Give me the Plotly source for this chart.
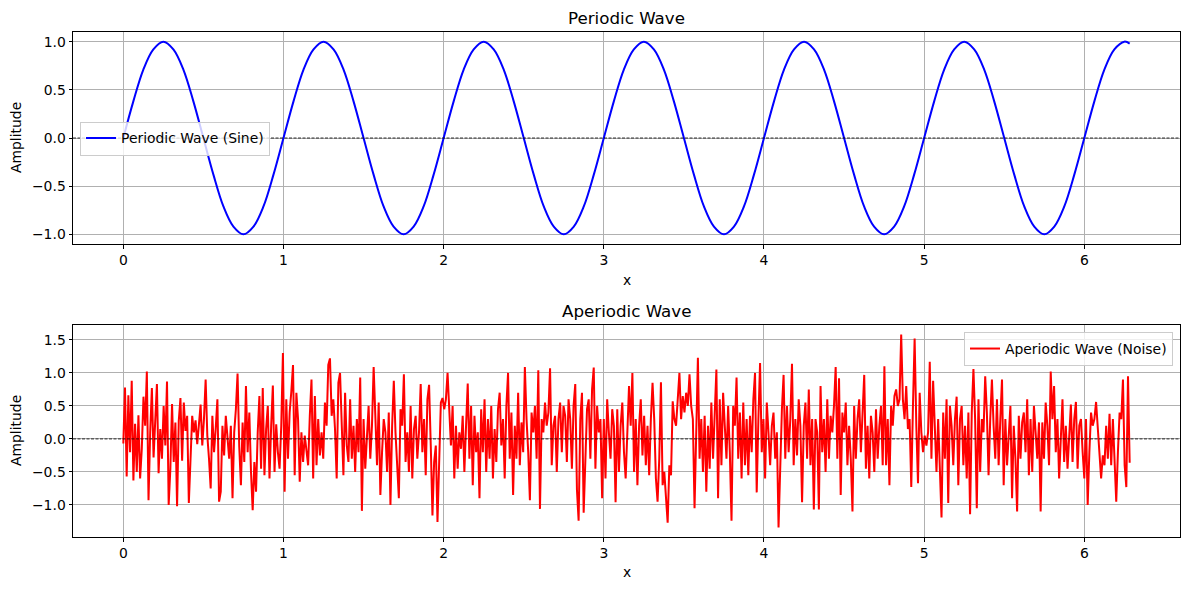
import plotly.graph_objects as go

# ---------------- data ----------------
sine_x = [
    0.0, 0.0625, 0.125, 0.1875, 0.25, 0.3125, 0.375, 0.4375, 0.5, 0.5625, 0.625, 0.6875, 0.75, 0.8125, 0.875, 0.9375,
    1.0, 1.0625, 1.125, 1.1875, 1.25, 1.3125, 1.375, 1.4375, 1.5, 1.5625, 1.625, 1.6875, 1.75, 1.8125, 1.875, 1.9375,
    2.0, 2.0625, 2.125, 2.1875, 2.25, 2.3125, 2.375, 2.4375, 2.5, 2.5625, 2.625, 2.6875, 2.75, 2.8125, 2.875, 2.9375,
    3.0, 3.0625, 3.125, 3.1875, 3.25, 3.3125, 3.375, 3.4375, 3.5, 3.5625, 3.625, 3.6875, 3.75, 3.8125, 3.875, 3.9375,
    4.0, 4.0625, 4.125, 4.1875, 4.25, 4.3125, 4.375, 4.4375, 4.5, 4.5625, 4.625, 4.6875, 4.75, 4.8125, 4.875, 4.9375,
    5.0, 5.0625, 5.125, 5.1875, 5.25, 5.3125, 5.375, 5.4375, 5.5, 5.5625, 5.625, 5.6875, 5.75, 5.8125, 5.875, 5.9375,
    6.0, 6.0625, 6.125, 6.1875, 6.25, 6.2832,
]
sine_y = [
    0, 0.38, 0.71, 0.92, 1, 0.92, 0.71, 0.38, 0, -0.38, -0.71, -0.92, -1, -0.92, -0.71, -0.38,
    0, 0.38, 0.71, 0.92, 1, 0.92, 0.71, 0.38, 0, -0.38, -0.71, -0.92, -1, -0.92, -0.71, -0.38,
    0, 0.38, 0.71, 0.92, 1, 0.92, 0.71, 0.38, 0, -0.38, -0.71, -0.92, -1, -0.92, -0.71, -0.38,
    0, 0.38, 0.71, 0.92, 1, 0.92, 0.71, 0.38, 0, -0.38, -0.71, -0.92, -1, -0.92, -0.71, -0.38,
    0, 0.38, 0.71, 0.92, 1, 0.92, 0.71, 0.38, 0, -0.38, -0.71, -0.92, -1, -0.92, -0.71, -0.38,
    0, 0.38, 0.71, 0.92, 1, 0.92, 0.71, 0.38, 0, -0.38, -0.71, -0.92, -1, -0.92, -0.71, -0.38,
    0, 0.38, 0.71, 0.92, 1, 0.98,
]

noise_start = 0.0
noise_end = 6.2832
noise_y = [
    -0.07, 0.78, -0.57, 0.66, -0.2, 0.88, -0.63, 0.23, -0.5, 0.36, -0.6, -0.15, 0.64, 0.2, 1.02, -0.93, 0.1, 0.77, -0.28, 0.4,
    0.83, -0.52, 0.15, -0.3, 0.5, -0.1, 0.87, -1.0, -0.45, 0.53, -0.35, 0.25, -1.02, 0.27, 0.62, -0.33, 0.55, 0.12, 0.35, -0.97,
    -0.2, 0.35, 0.1, 0.28, -0.08, 0.25, 0.52, -0.1, 0.3, 0.9, 0.05, -0.3, -0.75, 0.35, -0.2, 0.16, 0.6, -0.95, -0.8, 0.2,
    -0.25, 0.35, 0.05, -0.3, 0.2, -0.9, 0.1, 0.45, 0.99, -0.12, -0.7, 0.25, -0.35, 0.8, -0.2, 0.4, -0.5, -1.08, -0.35, -0.8,
    0.1, 0.65, -0.45, 0.77, -0.55, 0.15, 0.5, -0.6, 0.2, 0.81, -0.5, 0.22, -0.2, -0.45, 0.2, 1.3, -0.8, 0.6, -0.3, 0.4,
    0.72, 1.12, -0.55, 0.7, 0.3, -0.65, 0.1, -0.35, 0.05, -0.15, -0.4, 0.35, 0.9, -0.6, 0.65, -0.4, 0.3, -0.25, 0.1, -0.3,
    0.55, 0.2, 1.12, 1.22, 0.35, 0.6, 0.15, -0.6, 0.85, 1.0, 0.15, -0.55, 0.7, -0.1, -0.35, 0.6, -0.3, 0.2, -0.5, 0.3,
    -0.2, 0.93, -1.09, 0.3, -0.45, 0.1, 0.5, -0.3, 0.2, 1.09, 0.2, -0.4, 0.55, -0.85, -0.2, 0.3, 0.1, -0.5, 0.4, -1.0,
    0.2, 0.88, 0.1, -0.4, -0.9, 0.45, 0.2, 0.98, -0.35, 0.1, -0.5, 0.5, -0.6, 0.15, 0.35, -0.3, 0.1, 0.83, -0.2, 0.3,
    -0.55, 0.6, 0.82, -0.1, -1.16, -0.35, -0.1, -1.26, -0.4, 0.55, 0.62, 0.45, 0.6, 1.0, 0.45, -0.1, 0.5, -0.6, 0.2, -0.45,
    0.1, -0.15, 0.35, -0.5, 0.2, 0.84, -0.3, 0.5, -0.7, 0.35, -0.2, 0.1, -0.9, 0.45, -0.2, 0.6, -0.5, 0.3, -0.3, 0.5,
    -0.6, 0.15, -0.35, 0.45, 0.7, -0.1, 0.3, -0.6, 0.5, 1.0, -0.3, 0.4, -0.85, 0.2, -0.3, 0.7, -0.4, 0.25, -0.2, 1.09,
    0.3, -0.2, -0.93, 0.4, 0.1, 0.5, -0.3, 1.04, -1.06, 0.3, 0.1, 0.55, 0.2, 0.4, 1.07, -0.4, 0.2, 0.35, -0.5, 0.3,
    0.55, -0.2, 0.5, 0.35, -0.35, 0.6, 0.3, -0.45, 0.5, 0.83, -0.77, -1.24, 0.3, 0.7, -1.12, -0.2, 0.45, 0.6, -0.3, 0.75,
    1.08, -0.45, 0.5, 0.1, 0.3, -0.9, 0.3, -0.6, 0.6, 0.1, -0.3, 0.45, 0.2, -0.96, 0.45, -0.5, 0.2, 0.55, -0.2, -0.6,
    0.3, 0.8, 0.2, 1.0, -0.5, 0.3, -0.7, 0.2, 0.6, -0.25, 0.35, -0.4, 0.2, -0.55, 0.3, 0.85, 0.3, -0.6, -0.95, -0.3,
    0.86, -0.7, -0.5, -0.85, -1.27, -0.4, -0.55, 0.57, 0.3, 0.2, 0.55, 1.0, 0.3, 0.65, 0.4, 0.7, 0.5, 0.98, 0.5, 0.3,
    -1.05, 0.3, 1.23, -0.3, 0.3, -0.5, 0.35, -0.8, 0.2, -0.45, 0.55, -0.3, 0.4, 1.05, -0.9, 0.6, -0.4, 0.7, 0.2, -0.3,
    0.5, -0.2, -1.24, 0.5, 0.2, 0.93, -0.3, 0.4, -0.6, 0.55, -0.4, 0.3, -0.55, 0.35, -0.2, 0.6, 1.0, -0.81, 0.3, 1.15,
    -0.2, 0.3, -0.6, 0.55, 0.1, -0.4, 0.2, 0.4, -0.3, 0.1, -1.34, -0.2, 0.45, 0.97, -0.3, 0.5, -0.2, 0.3, 1.14, -0.4,
    0.3, -0.25, 0.6, 0.2, -0.96, 0.2, 0.55, -0.3, 0.75, -0.4, 0.3, -1.07, 0.3, 0.1, -1.07, 0.8, -0.2, 0.3, -0.5, 0.6,
    -0.3, 0.35, 0.1, 0.5, 1.09, -0.3, 0.92, -0.85, 0.4, 0.1, 0.55, -0.4, 0.2, -0.3, -1.1, 0.5, -0.3, 0.3, 0.6, -0.2,
    0.3, 0.97, -0.45, 0.2, -0.6, 0.35, 0.1, -0.5, 0.45, -0.3, 0.2, 0.5, -0.4, 1.1, -0.4, 0.3, -0.7, 0.5, 0.2, 0.65,
    0.75, 0.5, 0.6, 1.58, 0.6, 0.3, 0.8, 0.15, 0.3, -0.73, 0.5, 1.52, 0.2, -0.67, 0.7, 0.1, -0.2, 0.05, -0.1, 0.1,
    1.17, -0.3, 0.88, 0.1, -0.5, 0.3, -0.4, -1.19, 0.4, -0.3, 0.6, -0.97, 0.5, 0.2, -0.4, 0.3, 0.64, -0.7, 0.3, 0.5,
    -0.4, 0.2, -0.6, 0.4, -1.14, 0.4, 1.06, 0.3, -1.05, 0.6, -0.5, 0.3, 0.1, 0.95, 0.4, -0.55, 0.3, 0.9, 0.2, -0.3,
    0.6, -0.4, 0.3, 0.9, -0.7, 0.3, -0.4, 0.1, 0.5, -0.9, 0.2, -0.3, -1.1, 0.35, -0.3, 0.25, 0.4, -0.2, 0.6, -0.55,
    0.3, -0.5, 0.5, 0.1, -0.3, 0.25, -1.1, 0.25, -0.3, 0.55, 0.2, -0.4, 1.02, 0.3, 0.8, -0.2, 0.3, -0.6, 0.15, 0.6,
    -0.35, 0.2, -0.45, 0.1, 0.52, -0.35, 0.3, 0.56, -0.45, 0.2, 0.3, -0.2, -0.6, 0.3, -1.0, -0.2, 0.4, 0.2, 0.3, 0.56,
    0.2, -0.1, -0.6, -0.25, -0.4, 0.2, -0.3, 0.38, -0.4, 0.3, -0.5, -0.95, -0.2, 0.4, 0.3, 0.9, -0.4, -0.73, 0.95, -0.36,
]

x_ticks = [0, 1, 2, 3, 4, 5, 6]
top_y_ticks = [-1.0, -0.5, 0.0, 0.5, 1.0]
bot_y_ticks = [-1.0, -0.5, 0.0, 0.5, 1.0, 1.5]


def fmt(v):
    s = f"{v:.1f}"
    return s.replace("-", "\u2212")


FONT = "DejaVu Sans"
TICK = 13.9
W, H = 1189, 590
L, R, T, B = 73, 9, 32, 53
PH = H - T - B


def py(px):
    return (H - B - px) / PH


def pxx(px):
    return (px - L) / (W - L - R)


fig = go.Figure()

fig.add_trace(go.Scatter(
    x=sine_x, y=sine_y, mode="lines", name="Periodic Wave (Sine)",
    line=dict(color="#0000ff", width=2, shape="spline", smoothing=1.0),
    xaxis="x", yaxis="y", legend="legend",
))
fig.add_trace(go.Scatter(
    x0=noise_start, dx=(noise_end - noise_start) / (len(noise_y) - 1), y=noise_y,
    mode="lines", name="Aperiodic Wave (Noise)",
    line=dict(color="#ff0000", width=2),
    xaxis="x2", yaxis="y2", legend="legend2",
))

axis_common = dict(
    showline=True, mirror=True, linecolor="black", linewidth=1,
    ticks="outside", ticklen=3.5, tickwidth=1, tickcolor="black",
    showgrid=True, gridcolor="#b0b0b0", gridwidth=0.8, zeroline=False,
    tickfont=dict(family=FONT, size=TICK, color="black"),
)

xr = [-0.31416, 6.59734]
top_dom = [py(244), py(32)]
bot_dom = [py(537), py(325)]

fig.update_layout(
    width=W, height=H,
    margin=dict(l=L, r=R, t=T, b=B),
    plot_bgcolor="white", paper_bgcolor="white",
    font=dict(family=FONT, size=TICK, color="black"),
    xaxis=dict(domain=[0, 1], anchor="y", range=xr, tickvals=x_ticks,
               ticktext=[str(v) for v in x_ticks], **axis_common),
    yaxis=dict(domain=top_dom, anchor="x", range=[-1.1, 1.1], tickvals=top_y_ticks,
               ticktext=[fmt(v) for v in top_y_ticks], **axis_common),
    xaxis2=dict(domain=[0, 1], anchor="y2", range=xr, tickvals=x_ticks,
                ticktext=[str(v) for v in x_ticks], **axis_common),
    yaxis2=dict(domain=bot_dom, anchor="x2", range=[-1.486, 1.726], tickvals=bot_y_ticks,
                ticktext=[fmt(v) for v in bot_y_ticks], **axis_common),
    legend=dict(
        x=pxx(80), y=py(138.5), xanchor="left", yanchor="middle",
        bgcolor="rgba(255,255,255,0.8)", bordercolor="#cccccc", borderwidth=1,
        font=dict(family=FONT, size=TICK, color="black"),
    ),
    legend2=dict(
        x=pxx(1173), y=py(332), xanchor="right", yanchor="top",
        bgcolor="rgba(255,255,255,0.8)", bordercolor="#cccccc", borderwidth=1,
        font=dict(family=FONT, size=TICK, color="black"),
    ),
    showlegend=True,
)

# zero reference lines
for xa, ya in (("x", "y"), ("x2", "y2")):
    fig.add_shape(type="line", xref=f"{xa} domain", yref=ya, x0=0, x1=1, y0=0, y1=0,
                  line=dict(color="black", width=0.8, dash="3px,1.5px"), layer="above")

# titles and axis labels
ann = [
    dict(text="Periodic Wave", x=0.5, y=py(18), size=16.7),
    dict(text="Aperiodic Wave", x=0.5, y=py(311), size=16.7),
    dict(text="x", x=0.5, y=py(280), size=TICK),
    dict(text="x", x=0.5, y=py(572), size=TICK),
]
for a in ann:
    fig.add_annotation(text=a["text"], xref="paper", yref="paper", x=a["x"], y=a["y"],
                       xanchor="center", yanchor="middle", showarrow=False,
                       font=dict(family=FONT, size=a["size"], color="black"))
for yc in (138, 431):
    fig.add_annotation(text="Amplitude", xref="paper", yref="paper", x=pxx(16), y=py(yc),
                       xanchor="center", yanchor="middle", textangle=-90, showarrow=False,
                       font=dict(family=FONT, size=TICK, color="black"))

fig.write_html("out.html")
